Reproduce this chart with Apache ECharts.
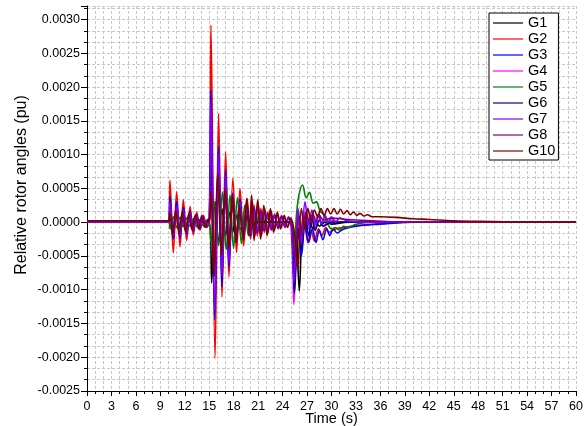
<!DOCTYPE html>
<html>
<head>
<meta charset="utf-8">
<script src="https://cdn.jsdelivr.net/npm/echarts@6/dist/echarts.min.js"></script>
<style>html,body{margin:0;padding:0;background:#fff}#c{width:588px;height:426px}</style>
</head>
<body>
<div id="c"></div>
<script>
// Series names and colours
const seriesNames = ['G1','G2','G3','G4','G5','G6','G7','G8','G10'];
const seriesColors = ['#000000','#ff0000','#0000ff','#ff00ff','#008000','#000080','#8000ff','#800080','#800000'];
const xTitle = 'Time (s)';
const yTitle = 'Relative rotor angles (pu)';

// [time (s), relative rotor angle (pu)] (turning points)
const g1 = [[0,0],[10,0],[10.2,0.00012],[10.6,-0.0001],[11.0,0.0001],[11.4,-0.00008],[11.8,0.00008],[12.2,-0.00006],[12.65,0.00006],[13.05,-0.00005],[13.5,0.00004],[14.3,0],[15.0,0],
  [15.3,-0.0009],[15.7,0.0003],[16.15,-0.0003],[16.56,0.0002],[17.0,-0.0002],[17.42,0.00015],[17.87,-0.00015],[18.3,0.0001],[18.8,-0.0001],[19.6,0.00005],[20.5,0],[25.0,0],
  [25.35,-0.0007],[25.65,-0.0001],[26.05,-0.00102],[26.5,0.0001],[26.9,-0.0001],[27.3,0.00005],[27.7,-0.0001],[28.1,0.00002],[28.5,-0.00006],[29.2,0],[30,-0.00003],[32,0],[60,0]];
const g2 = [[0,0.00002],[10,0.00002],[10.18,0.00062],[10.59,-0.000455],[11.0,0.00045],[11.41,-0.000365],[11.82,0.00033],[12.23,-0.00027],[12.65,0.00023],[13.05,-0.00019],[13.46,0.00015],[13.87,-0.00012],[14.28,0.0001],[14.69,-0.00008],[15.0,0],
  [15.21,0.00292],[15.71,-0.00202],[16.15,0.00161],[16.56,-0.00111],[17.01,0.00104],[17.42,-0.00081],[17.9,0.00065],[18.35,-0.00045],[18.77,0.0005],[19.22,-0.00035],[19.65,0.00035],[20.07,-0.00025],[20.5,0.00025],[20.9,-0.0002],[21.33,0.0002],[21.75,-0.00015],[22.17,0.00015],[22.6,-0.00012],[23.02,0.00012],[23.45,-0.0001],[23.87,0.0001],[24.3,-0.00008],[24.72,0.00008],[25.1,-0.00005],
  [25.4,-0.0005],[25.85,0],[26.2,-0.0004],[26.7,0],[27.1,-0.0003],[27.5,-0.00012],[27.9,-0.00028],[28.4,-0.0001],[28.8,-0.0002],[29.3,-0.00008],[29.7,-0.00015],[30.5,-0.0001],[31.5,-0.00008],[33,-0.00005],[36,-0.00002],[40,0],[60,0]];
const g3 = [[0,0],[10,0],[10.18,0.00038],[10.59,-0.00025],[11.0,0.0003],[11.41,-0.00024],[11.82,0.00022],[12.23,-0.00018],[12.65,0.00016],[13.05,-0.00013],[13.46,0.00011],[13.87,-0.00009],[14.28,0.00007],[14.69,-0.00006],[15.0,0],
  [15.21,0.00196],[15.66,-0.00145],[16.15,0.00112],[16.56,-0.00095],[17.01,0.00077],[17.42,-0.00066],[17.87,0.00043],[18.32,-0.0003],[18.77,0.00035],[19.2,-0.00025],[19.65,0.00025],[20.07,-0.0002],[20.5,0.0002],[20.9,-0.00015],[21.33,0.00015],[21.75,-0.00012],[22.17,0.00012],[22.6,-0.0001],[23.02,0.0001],[23.45,-0.00008],[23.87,0.00008],[24.3,-0.00006],[24.72,0.00006],[25.1,-0.00004],
  [25.45,-0.0009],[25.9,-0.0001],[26.3,-0.0005],[26.75,-0.00005],[27.2,-0.0003],[27.65,-0.0001],[28.1,-0.0003],[28.5,-0.00012],[28.95,-0.00026],[29.4,-0.0001],[29.8,-0.0002],[30.2,-0.0001],[30.7,-0.00016],[31.5,-0.0001],[33,-0.00006],[36,-0.00003],[40,0],[60,0]];
const g4 = [[0,0],[10,0],[10.18,0.0002],[10.59,-0.00015],[11.0,0.00015],[11.41,-0.00012],[11.82,0.00011],[12.23,-0.00009],[12.65,0.00008],[13.05,-0.00006],[13.46,0.00005],[14.2,0],[15.0,0],
  [15.21,0.0008],[15.66,-0.0006],[16.15,0.0004],[16.56,-0.0001],[17.01,0.0003],[17.42,-0.00025],[17.87,0.0002],[18.32,-0.00015],[18.77,0.00012],[19.2,-0.0001],[19.65,0.00008],[20.1,-0.00006],[21,0],[25.0,0],
  [25.38,-0.00122],[25.85,0.0001],[26.3,-0.0003],[26.75,0.00015],[27.2,-0.0001],[27.6,0.0001],[28.0,-0.00008],[28.4,0.00008],[29,-0.00005],[30,0.00003],[31,0],[60,0]];
const g5 = [[0,0],[10,0],[10.2,-0.0001],[10.6,0.00008],[11.0,-0.00008],[11.4,0.00007],[11.8,-0.00007],[12.2,0.00006],[12.65,-0.00006],[13.05,0.00005],[13.5,-0.00007],[13.9,0.00003],[14.3,-0.00006],[14.7,0.00003],[15.0,0],
  [15.21,-0.0003],[15.68,0.0003],[16.15,-0.00035],[16.62,0.00045],[17.08,-0.00041],[17.55,0.0004],[17.98,-0.00039],[18.45,0.00036],[18.95,-0.00032],[19.35,0.00025],[19.8,-0.0002],[20.25,0.00015],[20.7,-0.00012],[21.1,0.0001],[21.6,-0.00008],[22.0,0.00006],[23,0],[25.0,0],
  [25.4,-0.0004],[25.7,0.0001],[26.0,0.0004],[26.45,0.00055],[26.9,0.00036],[27.3,0.00044],[27.75,0.00028],[28.15,0.0003],[28.6,0.00016],[29.0,0.00012],[29.5,-0.00002],[30.0,-0.0001],[30.5,-0.00008],[31.0,-0.00012],[31.5,-0.00006],[32,-0.00008],[33,-0.00003],[35,0],[60,0]];
const g6 = [[0,0],[10,0],[10.18,0.00018],[10.59,-0.00012],[11.0,0.00014],[11.41,-0.00011],[11.82,0.0001],[12.23,-0.00008],[12.65,0.00007],[13.05,-0.00006],[13.46,0.00005],[14.2,0],[15.0,0],
  [15.21,0.001],[15.66,-0.0008],[16.15,0.0006],[16.56,-0.0005],[17.01,0.0004],[17.42,-0.00035],[17.87,0.00025],[18.32,-0.0002],[18.77,0.00015],[19.2,-0.00012],[19.65,0.0001],[20.1,-0.00008],[21,0],[25.0,0],
  [25.45,-0.00105],[25.9,-0.0001],[26.3,-0.0004],[26.8,0.0001],[27.2,-0.0002],[27.6,0.00005],[28.0,-0.00012],[28.5,0.00003],[29,-0.00006],[30,0],[60,0]];
const g7 = [[0,0],[10,0],[10.18,0.0003],[10.59,-0.0002],[11.0,0.00024],[11.41,-0.0002],[11.82,0.00018],[12.23,-0.00015],[12.65,0.00013],[13.05,-0.00011],[13.46,0.00009],[13.87,-0.00007],[14.28,0.00006],[14.69,-0.00005],[15.0,0],
  [15.21,0.0018],[15.66,-0.0013],[16.15,0.001],[16.56,-0.0008],[17.01,0.0007],[17.42,-0.0006],[17.87,0.0004],[18.32,-0.00028],[18.77,0.0003],[19.2,-0.00022],[19.65,0.00022],[20.07,-0.00018],[20.5,0.00018],[20.9,-0.00013],[21.33,0.00013],[21.75,-0.0001],[22.17,0.0001],[22.6,-0.00008],[23.02,0.00008],[23.45,-0.00006],[23.87,0.00006],[24.3,-0.00005],[24.72,0.00005],[25.0,0],
  [25.4,-0.0009],[25.9,0.0002],[26.3,-0.0003],[26.75,0.0003],[27.2,-0.00005],[27.6,0.00018],[28.0,-0.00003],[28.4,0.00012],[28.8,-0.00002],[29.2,0.0001],[29.6,0],[30,0.00008],[30.5,0],[31,0.00006],[32,0.00002],[34,0],[60,0]];
const g8 = [[0,0.00001],[10,0.00001],[10.18,0.00012],[10.5,-0.00016],[10.9,0.00014],[11.3,-0.00014],[11.7,0.00013],[12.1,-0.00012],[12.5,0.0001],[12.9,-0.0001],[13.3,0.00009],[13.7,-0.00008],[14.1,0.00008],[14.5,-0.00006],[14.9,0.00004],[15.0,0],
  [15.25,0.0004],[15.55,-0.0007],[16.05,0.0006],[16.5,-0.0004],[16.95,0.0004],[17.4,-0.00032],[17.85,0.00032],[18.3,-0.00025],[18.7,0.0002],[19.15,-0.0002],[19.6,0.00028],[20.0,-0.00016],[20.3,0.0003],[20.6,-0.0002],[21.0,0.00026],[21.4,-0.0002],[21.8,0.0002],[22.2,-0.00016],[22.6,0.00016],[23.0,-0.00012],[23.4,0.00012],[23.8,-0.00008],[24.2,0.00008],[24.6,-0.00006],[25.0,0.00004],
  [25.5,-0.0005],[26,0.0001],[26.4,-0.0002],[26.9,0.00015],[27.3,0],[27.7,0.00012],[28.1,0.00002],[28.5,0.0001],[29,0.00003],[30,0.00006],[32,0.00004],[35,0.00002],[40,0],[60,0]];
const g10 = [[0,0.00002],[10,0.00002],[10.18,0.00015],[10.5,-0.0002],[10.9,0.00018],[11.3,-0.00018],[11.7,0.00016],[12.1,-0.00015],[12.5,0.00013],[12.9,-0.00012],[13.3,0.00011],[13.7,-0.0001],[14.1,0.0001],[14.5,-0.00008],[14.9,0.00005],[15.0,0],
  [15.25,0.00045],[15.55,-0.0008],[16.05,0.00075],[16.5,-0.0005],[16.95,0.0005],[17.4,-0.0004],[17.85,0.0004],[18.3,-0.0003],[18.7,0.00025],[19.15,-0.00025],[19.6,0.00035],[19.9,-0.0002],[20.2,0.0004],[20.5,-0.00027],[20.95,0.00033],[21.3,-0.00025],[21.7,0.00025],[22.1,-0.0002],[22.5,0.0002],[22.9,-0.00015],[23.35,0.00015],[23.75,-0.0001],[24.2,0.0001],[24.6,-0.00008],[25.0,0.00006],
  [25.5,-0.0002],[25.85,-0.0007],[26.3,0.0002],[26.7,-0.0001],[27.1,0.0002],[27.5,0.00002],[27.9,0.00018],[28.3,0.00008],[28.7,0.0002],[29.1,0.0001],[29.5,0.0002],[29.9,0.00012],[30.3,0.0002],[30.7,0.00012],[31.1,0.00019],[31.5,0.00012],[31.9,0.00017],[32.3,0.00011],[32.7,0.00015],[33.1,0.0001],[33.5,0.00013],[34,0.00009],[34.4,0.00011],[35,0.00008],[36,0.00008],[38,0.00007],[40,0.00005],[42,0.00004],[45,0.00002],[50,0.00001],[55,0],[60,0]];
const seriesData = [g1,g2,g3,g4,g5,g6,g7,g8,g10];

// Axis ranges / ticks
const xMin = 0, xMax = 60, xStep = 3;
const yMin = -0.0025, yMax = 0.0032, yStep = 0.0005;

const font = 'Liberation Sans, Arial, sans-serif';
const gridLine = {show: true, lineStyle: {color: '#c8c8c8', type: [3, 2], width: 1}};

const chart = echarts.init(document.getElementById('c'), null, {renderer: 'canvas'});
chart.setOption({
  animation: false,
  backgroundColor: '#ffffff',
  grid: {left: 87, right: 12, top: 6, bottom: 35, containLabel: false, outerBoundsMode: 'none'},
  legend: {
    orient: 'vertical', left: 489, top: 13,
    data: seriesNames,
    icon: 'rect', itemWidth: 30, itemHeight: 1.2, itemGap: 0,
    padding: [2, 3, 1, 4],
    borderColor: '#000', borderWidth: 1, backgroundColor: '#fff',
    textStyle: {fontFamily: font, fontSize: 14.5, color: '#000', lineHeight: 16}
  },
  xAxis: {
    type: 'value', min: xMin, max: xMax, interval: xStep,
    name: xTitle, nameLocation: 'middle', nameGap: 20, nameMoveOverlap: false,
    nameTextStyle: {fontFamily: font, fontSize: 14.5, color: '#000'},
    axisLine: {show: true, onZero: false, lineStyle: {color: '#000', width: 1}},
    axisTick: {show: true, length: 5, lineStyle: {color: '#000'}},
    minorTick: {show: true, splitNumber: 3, length: 3, lineStyle: {color: '#000'}},
    splitLine: gridLine, minorSplitLine: gridLine,
    axisLabel: {fontFamily: font, fontSize: 12.5, color: '#000', margin: 9}
  },
  yAxis: {
    type: 'value', min: yMin, max: yMax, interval: yStep,
    axisLine: {show: true, onZero: false, lineStyle: {color: '#000', width: 1}},
    axisTick: {show: true, length: 6, lineStyle: {color: '#000'}},
    minorTick: {show: true, splitNumber: 3, length: 3, lineStyle: {color: '#000'}},
    splitLine: gridLine, minorSplitLine: gridLine,
    axisLabel: {fontFamily: font, fontSize: 12.5, color: '#000', margin: 7,
      formatter: v => (v > 0.00301 ? '' : v.toFixed(4))}
  },
  graphic: [{
    type: 'text', x: 22, y: 185, rotation: Math.PI / 2,
    style: {text: yTitle, fontFamily: font, fontSize: 16, fill: '#000', align: 'center', verticalAlign: 'middle'}
  }],
  series: seriesNames.map((n, i) => ({
    name: n, type: 'line', data: seriesData[i],
    showSymbol: false, symbol: 'none', smooth: 0.35,
    lineStyle: {width: 1.6, color: seriesColors[i]},
    itemStyle: {color: seriesColors[i]}
  }))
});
</script>
</body>
</html>
